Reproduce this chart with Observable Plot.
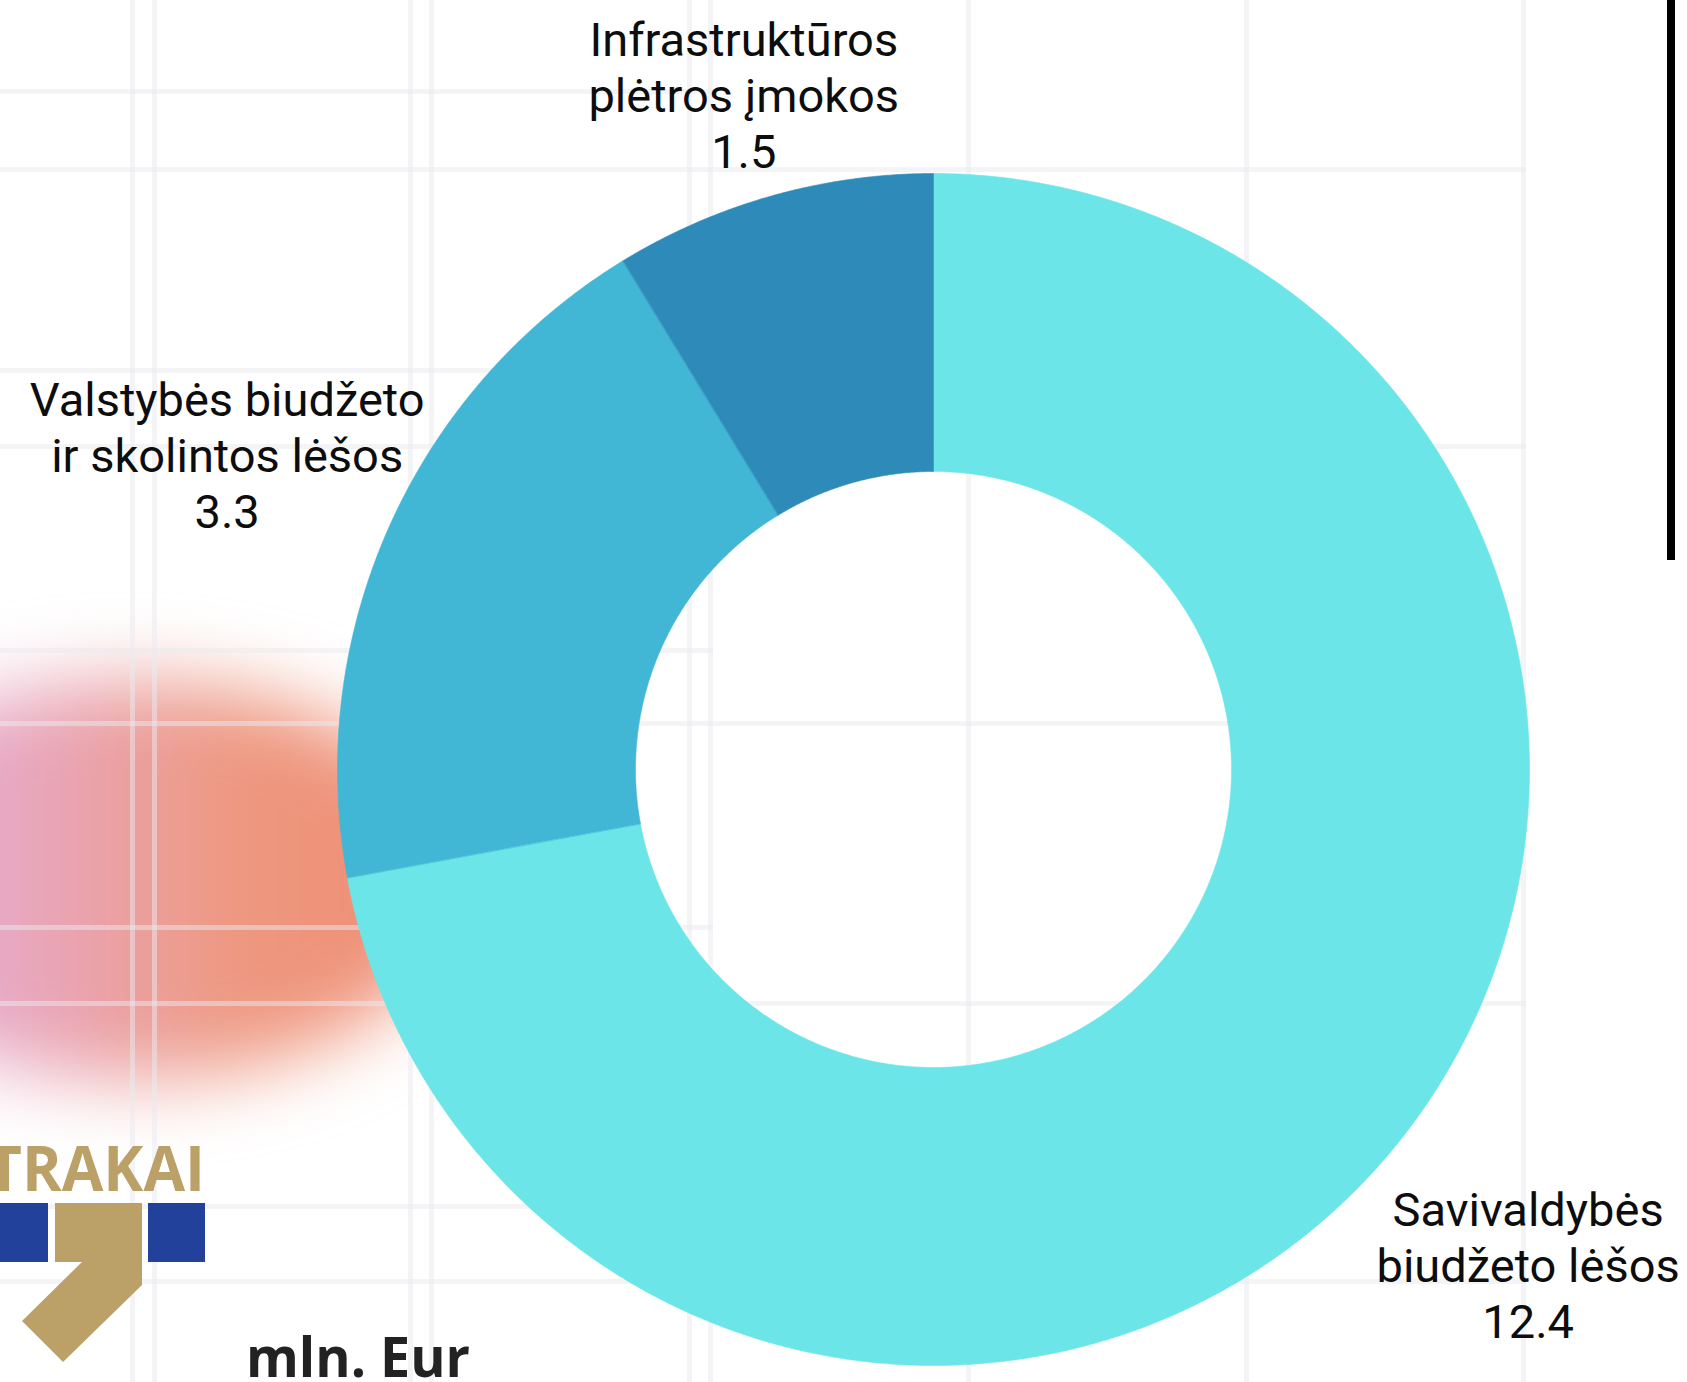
<!DOCTYPE html>
<html>
<head>
<meta charset="utf-8">
<script src="https://cdn.jsdelivr.net/npm/d3@7"></script>
<script src="https://cdn.jsdelivr.net/npm/@observablehq/plot@0.6"></script>
<style>
  html, body { margin: 0; padding: 0; background: #fff; }
  #page { position: relative; width: 1687px; height: 1382px; overflow: hidden; background: #fff; }
  .blob { position: absolute; left: -200px; top: 680px; width: 660px; height: 400px; border-radius: 50%;
          background: linear-gradient(90deg, #dcb7e4 0%, #e8a8c2 32%, #ee987f 66%, #f08c74 100%);
          filter: blur(38px); }
  .g { position: absolute; background: rgba(234, 234, 240, 0.5); }
  #chart { position: absolute; left: 0; top: 0; }
  #overlay { position: absolute; left: 0; top: 0; pointer-events: none; }
</style>
</head>
<body>
<div id="page">
  <div class="blob"></div>
  <div id="grid"></div>
  <div id="chart"></div>
  <svg id="overlay" width="1687" height="1382" xmlns="http://www.w3.org/2000/svg">
    <!-- logo -->
    <text x="205" y="1191" text-anchor="end" font-family="'Open Sans', sans-serif" font-weight="700" font-size="62" fill="#bba068" textLength="218" lengthAdjust="spacingAndGlyphs">TRAKAI</text>
    <rect x="-5" y="1203" width="53" height="59" fill="#22419a"/>
    <rect x="148" y="1203" width="57" height="59" fill="#22419a"/>
    <polygon points="55,1203 142,1203 142,1285 63,1362 22,1321 82,1262 55,1262" fill="#bba068"/>
    <!-- unit -->
    <text x="246" y="1377" font-family="'Open Sans', sans-serif" font-weight="700" font-size="55" fill="#222" textLength="224" lengthAdjust="spacingAndGlyphs">mln. Eur</text>
    <!-- vertical bar -->
    <rect x="1667" y="0" width="8" height="560" fill="#000"/>
  </svg>
</div>
<script>
// ---- data ----
const categories = ["Savivaldybės biudžeto lėšos", "Valstybės biudžeto ir skolintos lėšos", "Infrastruktūros plėtros įmokos"];
const labelLines = [["Savivaldybės", "biudžeto lėšos"], ["Valstybės biudžeto", "ir skolintos lėšos"], ["Infrastruktūros", "plėtros įmokos"]];
const values = [12.4, 3.3, 1.5];
const colors = ["#6be5e8", "#42b7d5", "#2e8bb9"];

// ---- layout ----
const W = 1687, H = 1382;
const CX = 933, CY = 769, R = 596;   // donut centre and outer radius in px
const INNER = 0.5;                   // inner radius ratio
const LABEL_R = 1.298;               // label distance (in outer radii)
const LABEL_MIN_MID = 94;            // keep label blocks inside the page (px from top)

// background grid (decoration)
const grid = document.getElementById("grid");
function addLine(x, y, w, h) {
  const d = document.createElement("div");
  d.className = "g";
  d.style.left = x + "px"; d.style.top = y + "px"; d.style.width = w + "px"; d.style.height = h + "px";
  grid.appendChild(d);
}
[154, 431, 710, 968, 1246, 1523].forEach(x => addLine(x - 2.5, 0, 5, H));
[169, 446, 723, 1003, 1281].forEach(y => addLine(0, y - 2.5, 1526, 5));
[132, 410, 689].forEach(x => addLine(x - 2.5, 0, 5, H));
[91, 370, 650, 927, 1206].forEach(y => addLine(0, y - 2.5, 713, 5));

// ---- build donut geometry from the data ----
const rows = categories.map((c, i) => ({cat: c, value: values[i]}));
const arcs = d3.pie().sort(null).value(d => d.value)(rows);

const ringPts = arcs.flatMap(a => {
  const n = Math.max(12, Math.ceil((a.endAngle - a.startAngle) / (Math.PI / 720)));
  const pts = [];
  for (let k = 0; k <= n; k++) {
    const t = a.startAngle + (a.endAngle - a.startAngle) * k / n;
    pts.push({cat: a.data.cat, x: Math.sin(t), y: Math.cos(t)});
  }
  for (let k = n; k >= 0; k--) {
    const t = a.startAngle + (a.endAngle - a.startAngle) * k / n;
    pts.push({cat: a.data.cat, x: INNER * Math.sin(t), y: INNER * Math.cos(t)});
  }
  return pts;
});

const maxUp = (CY - LABEL_MIN_MID) / R;
const labelRows = arcs.map((a, i) => {
  const mid = (a.startAngle + a.endAngle) / 2;
  let r = LABEL_R;
  if (Math.cos(mid) * r > maxUp) r = maxUp / Math.cos(mid);
  return {
    x: r * Math.sin(mid),
    y: r * Math.cos(mid),
    text: labelLines[i].join("\n") + "\n" + values[i].toFixed(1)
  };
});

const chart = Plot.plot({
  width: W,
  height: H,
  margin: 0,
  x: {domain: [-CX / R, (W - CX) / R], axis: null},
  y: {domain: [-(H - CY) / R, CY / R], axis: null},
  color: {domain: categories, range: colors},
  style: {background: "transparent", overflow: "visible"},
  marks: [
    Plot.line(ringPts, {x: "x", y: "y", z: "cat", fill: "cat", stroke: "cat", strokeWidth: 0.6, curve: "linear-closed"}),
    Plot.text(labelRows, {
      x: "x", y: "y", text: "text",
      fontSize: 47, lineHeight: 1.19, lineAnchor: "middle", textAnchor: "middle",
      fill: "#0d0d0d", fontFamily: "Roboto, sans-serif"
    })
  ]
});
document.getElementById("chart").appendChild(chart);
</script>
</body>
</html>
